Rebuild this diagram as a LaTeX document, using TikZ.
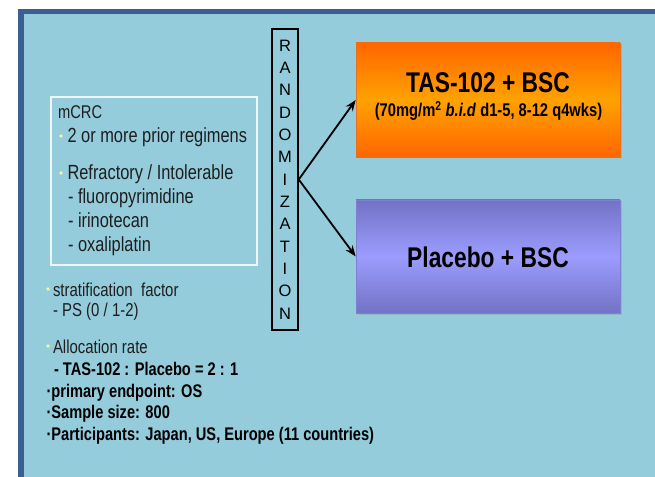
\documentclass[tikz,border=0pt]{standalone}
\usepackage{fontspec}
\setmainfont[FakeStretch=0.8]{Liberation Sans}
\newfontfamily\plainsans{Liberation Sans}
\usetikzlibrary{arrows.meta,shadows}
\newcommand\myfs[1]{\fontsize{#1bp}{#1bp}\selectfont}
\definecolor{panel}{HTML}{94CCDC}
\definecolor{frame}{HTML}{3C5F92}
\definecolor{orgedge}{HTML}{FF6600}
\definecolor{orgmid}{HTML}{FFA200}
\definecolor{orgdraw}{HTML}{E8701E}
\definecolor{purpedge}{HTML}{7272C6}
\definecolor{purpmid}{HTML}{9C9CFF}
\definecolor{purpdraw}{HTML}{8080D0}
\definecolor{bul}{HTML}{F2F6A0}
\definecolor{txt}{HTML}{1E1E1E}
\definecolor{critedge}{HTML}{EEF6F8}
\begin{document}
\begin{tikzpicture}[x=1bp,y=-1bp,
  lbl/.style={anchor=base west, inner sep=0, outer sep=0, text=txt},
  crittxt/.style={lbl, font=\myfs{20.5}},
  sidetxt/.style={lbl, font=\myfs{18.7}},
  boldtxt/.style={lbl, text=black, font=\myfs{18.3}\bfseries},
  armbox/.style={minimum width=264bp, inner sep=0, line width=0.6bp,
    drop shadow={opacity=0.25, shadow xshift=1.5bp, shadow yshift=-1.5bp}},
  armtitle/.style={anchor=base, inner sep=0, text=black, font=\myfs{28.5}\bfseries},
  arr/.style={line width=1.8bp, -{Stealth[length=11bp,width=8.5bp]}},
  dotb/.style={fill=bul}]
\useasboundingbox (0,0) rectangle (655,477);
\fill[white] (0,0) rectangle (655,477);
\fill[panel] (21,11.5) rectangle (655,477);
\draw[frame, line width=5.5bp] (21,477) -- (21,11.5) -- (655,11.5);

% criteria box
\node[draw=critedge, line width=2bp, minimum width=206bp, minimum height=168bp, inner sep=0] (crit) at (154,181) {};
\node[lbl, font=\myfs{18.4}] (t1) at (58,119) {mCRC};
\fill[dotb] (61,136) circle[radius=1.8bp];
\node[crittxt] (t2) at (67.5,143) {2 or more prior regimens};
\fill[dotb] (61,173) circle[radius=1.8bp];
\node[crittxt] (t3) at (67.5,180) {Refractory / Intolerable};
\node[crittxt] (t4) at (68,204) {- fluoropyrimidine};
\node[crittxt] (t5) at (68,228) {- irinotecan};
\node[crittxt] (t6) at (68,252) {- oxaliplatin};

% side notes
\fill[dotb] (48,289) circle[radius=1.8bp];
\node[sidetxt] (s1) at (53,296) {stratification\ \ factor};
\node[sidetxt] (s2) at (53,316) {- PS (0 / 1-2)};
\fill[dotb] (48,346) circle[radius=1.8bp];
\node[sidetxt] (s3) at (53,353) {Allocation rate};
\node[boldtxt] (s4) at (54,375) {- TAS-102 : Placebo = 2 : 1};
\node[boldtxt] (b1) at (46.5,397) {·primary endpoint: OS};
\node[boldtxt] (b2) at (46.5,418.5) {·Sample size: 800};
\node[boldtxt] (b3) at (46.5,440) {·Participants: Japan, US, Europe (11 countries)};

% randomization
\node[draw=black, line width=1.5bp, minimum width=26bp, minimum height=301bp, inner sep=0,
  align=center, font={\plainsans\fontsize{16.5bp}{22.33bp}\selectfont}] (rand) at (285,179.5)
  {R\\A\\N\\D\\O\\M\\I\\Z\\A\\T\\I\\O\\N};

% arms
\node[armbox, minimum height=114bp, draw=orgdraw, top color=orgedge, bottom color=orgedge, middle color=orgmid] (tas) at (488,100) {};
\node[armtitle] (tast) at (488,93) {TAS-102 + BSC};
\node[anchor=base, inner sep=0, text=black, font=\myfs{18.4}\bfseries] (tass) at (488.5,116.5)
  {(70mg/m\textsuperscript{2} \textit{b.i.d} d1-5, 8-12 q4wks)};
\node[armbox, minimum height=113bp, draw=purpdraw, top color=purpedge, bottom color=purpedge, middle color=purpmid] (pla) at (488,256.5) {};
\node[armtitle] (plat) at (488,267) {Placebo + BSC};

\draw[arr] (rand.east) -- (tas.west);
\draw[arr] (rand.east) -- (pla.west);
\end{tikzpicture}
\end{document}
